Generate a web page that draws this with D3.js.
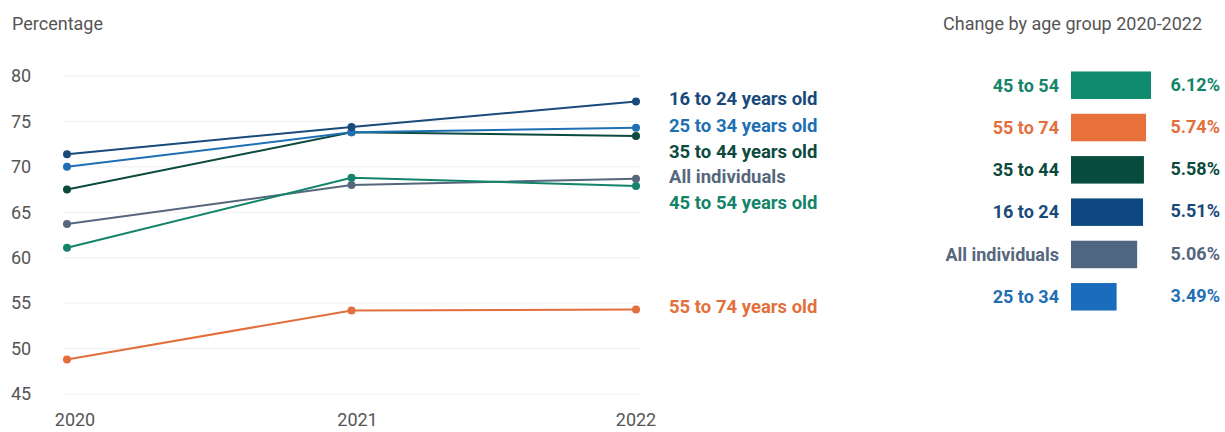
<!DOCTYPE html>
<html>
<head>
<meta charset="utf-8">
<script src="https://cdn.jsdelivr.net/npm/d3@7"></script>
<style>
  body { margin: 0; background: #fff; font-family: Roboto, "Noto Sans", sans-serif; }
  svg { display: block; }
  .grid line { stroke: #f0f0f0; stroke-width: 1px; }
  .tick-label { fill: #555; font-size: 18px; }
  .title { fill: #555; font-size: 18px; }
  .line { fill: none; stroke-width: 2px; }
  .end-label, .bar-label, .bar-value { font-weight: 700; }
</style>
</head>
<body>
<svg id="chart"></svg>
<script>
// line chart data
const years = ["2020", "2021", "2022"]
const yTicks = [45, 50, 55, 60, 65, 70, 75, 80]
const seriesNames = ["55 to 74 years old", "All individuals", "45 to 54 years old", "35 to 44 years old", "25 to 34 years old", "16 to 24 years old"]
const values55to74 = [48.8, 54.2, 54.3]
const valuesAll = [63.7, 68.0, 68.7]
const values45to54 = [61.1, 68.8, 67.9]
const values35to44 = [67.5, 73.8, 73.4]
const values25to34 = [70.0, 73.8, 74.3]
const values16to24 = [71.4, 74.4, 77.2]

// change panel data
const barCategories = ["45 to 54", "55 to 74", "35 to 44", "16 to 24", "All individuals", "25 to 34"]
const barValues = [6.12, 5.74, 5.58, 5.51, 5.06, 3.49]

const colors = {
  "16 to 24": "#184a7a",
  "25 to 34": "#1f6fb5",
  "35 to 44": "#0b4a3d",
  "All individuals": "#56677d",
  "45 to 54": "#138469",
  "55 to 74": "#e36f3c"
}
const barColors = {
  "16 to 24": "#0e4880",
  "25 to 34": "#1a6dbd",
  "35 to 44": "#084c40",
  "All individuals": "#4e6680",
  "45 to 54": "#0f8a6e",
  "55 to 74": "#e8703a"
}
const keyOf = name => name.replace(" years old", "")

const seriesValues = [values55to74, valuesAll, values45to54, values35to44, values25to34, values16to24]
const series = seriesNames.map((name, i) => ({
  name: name,
  key: keyOf(name),
  points: years.map((y, j) => ({ year: y, value: seriesValues[i][j] }))
}))

const width = 1225, height = 432

const svg = d3.select("#chart")
  .attr("width", width)
  .attr("height", height)

// scales
var x = d3.scalePoint().domain(years).range([67, 636])
var y = d3.scaleLinear().domain([45, 80]).range([394, 76])

svg.append("text")
  .attr("class", "title")
  .attr("x", 12)
  .attr("y", 30)
  .text("Percentage")

// gridlines
svg.append("g")
  .attr("class", "grid")
  .selectAll("line")
  .data(yTicks)
  .enter().append("line")
    .attr("x1", 64)
    .attr("x2", 641)
    .attr("y1", d => y(d))
    .attr("y2", d => y(d))

// y axis labels
svg.append("g")
  .selectAll("text")
  .data(yTicks)
  .enter().append("text")
    .attr("class", "tick-label")
    .attr("x", 11)
    .attr("y", d => y(d))
    .attr("dy", "0.35em")
    .text(d => d)

// x axis labels
svg.append("g")
  .selectAll("text")
  .data(years)
  .enter().append("text")
    .attr("class", "tick-label")
    .attr("x", d => x(d) + (d === "2020" ? 8 : (d === "2021" ? 6 : 0)))
    .attr("y", 426)
    .attr("text-anchor", "middle")
    .text(d => d)

var valueline = d3.line()
  .x(d => x(d.year))
  .y(d => y(d.value))

var groups = svg.append("g")
  .selectAll("g")
  .data(series)
  .enter().append("g")

groups.append("path")
  .attr("class", "line")
  .attr("stroke", d => colors[d.key])
  .attr("d", d => valueline(d.points))

groups.selectAll("circle")
  .data(d => d.points.map(p => Object.assign({ key: d.key }, p)))
  .enter().append("circle")
    .attr("r", 4)
    .attr("fill", d => colors[d.key])
    .attr("cx", d => x(d.year))
    .attr("cy", d => y(d.value))

// end labels, pushed apart so they don't overlap
var labels = series.map(s => ({
  name: s.name,
  key: s.key,
  pos: y(s.points[s.points.length - 1].value) - 2.5
})).sort((a, b) => a.pos - b.pos)
for (var i = 1; i < labels.length; i++) {
  labels[i].pos = Math.max(labels[i].pos, labels[i - 1].pos + 25.8)
}

svg.append("g")
  .selectAll("text")
  .data(labels)
  .enter().append("text")
    .attr("class", "end-label")
    .attr("x", 669)
    .attr("y", d => d.pos)
    .attr("dy", "0.35em")
    .attr("font-size", "18.5px")
    .attr("fill", d => colors[d.key])
    .text(d => d.name)

// change panel
svg.append("text")
  .attr("class", "title")
  .attr("x", 943)
  .attr("y", 30)
  .text("Change by age group 2020-2022")

var bx = d3.scaleLinear().domain([0, 6.12]).range([0, 80])
var by = d3.scaleBand().domain(barCategories).range([63, 319]).paddingInner(0.35).paddingOuter(0.2)

var bars = svg.append("g")
  .selectAll("g")
  .data(barCategories.map((c, i) => ({ cat: c, value: barValues[i] })))
  .enter().append("g")

bars.append("rect")
  .attr("x", 1071)
  .attr("y", d => by(d.cat))
  .attr("width", d => bx(d.value))
  .attr("height", by.bandwidth())
  .attr("fill", d => barColors[d.cat])

bars.append("text")
  .attr("class", "bar-label")
  .attr("x", 1059)
  .attr("y", d => by(d.cat) + by.bandwidth() / 2)
  .attr("dy", "0.35em")
  .attr("text-anchor", "end")
  .attr("font-size", "18px")
  .attr("fill", d => colors[d.cat])
  .text(d => d.cat)

bars.append("text")
  .attr("class", "bar-value")
  .attr("x", 1220)
  .attr("y", d => by(d.cat) + by.bandwidth() / 2 - 1)
  .attr("dy", "0.35em")
  .attr("text-anchor", "end")
  .attr("font-size", "18px")
  .attr("fill", d => colors[d.cat])
  .text(d => d.value.toFixed(2) + "%")
</script>
</body>
</html>
